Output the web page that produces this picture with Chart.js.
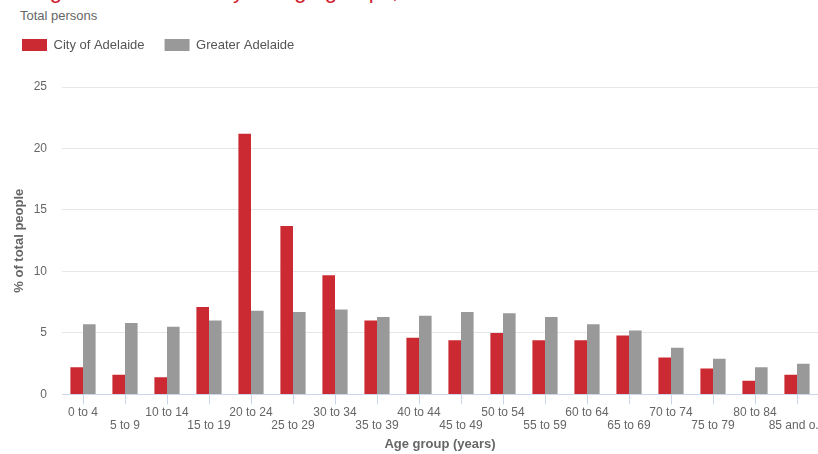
<!DOCTYPE html>
<html>
<head>
<meta charset="utf-8">
<script src="https://cdn.jsdelivr.net/npm/chart.js@4.4.1/dist/chart.umd.min.js"></script>
<style>
  body { margin: 0; background: #fff; font-family: "Liberation Sans", Arial, sans-serif; overflow: hidden; }
  #wrap { position: relative; width: 818px; height: 454px; overflow: hidden; }
  #title { position: absolute; left: 35px; top: -20px; font-size: 22px; line-height: 22px; color: #d0202e; white-space: nowrap; }
  #subtitle { position: absolute; left: 20px; top: 8px; font-size: 13px; line-height: 15px; color: #666; }
  #ageChart { position: absolute; left: 0; top: 0; }
</style>
</head>
<body>
<div id="wrap">
  <div id="title">Age structure - Five year age groups, 2016</div>
  <div id="subtitle">Total persons</div>
  <canvas id="ageChart" width="818" height="454"></canvas>
</div>
<script>
const ageGroups = ["0 to 4", "5 to 9", "10 to 14", "15 to 19", "20 to 24", "25 to 29", "30 to 34", "35 to 39", "40 to 44",
  "45 to 49", "50 to 54", "55 to 59", "60 to 64", "65 to 69", "70 to 74", "75 to 79", "80 to 84", "85 and o..."];
const cityOfAdelaide = [2.2, 1.6, 1.4, 7.1, 21.2, 13.7, 9.7, 6.0, 4.6, 4.4, 5.0, 4.4, 4.4, 4.8, 3.0, 2.1, 1.1, 1.6];
const greaterAdelaide = [5.7, 5.8, 5.5, 6.0, 6.8, 6.7, 6.9, 6.3, 6.4, 6.7, 6.6, 6.3, 5.7, 5.2, 3.8, 2.9, 2.2, 2.5];
const yTicks = [0, 5, 10, 15, 20, 25];

// stagger the x labels over two rows, like the original
const xLabels = ageGroups.map((g, i) => i % 2 === 0 ? [g, ""] : ["", g]);

// --- extra room under the legend ---
const legendSpacer = {
  id: 'legendSpacer',
  beforeLayout(chart) {
    const lg = chart.legend;
    if (lg && !lg._spaced) {
      const fit = lg.fit;
      lg.fit = function () { fit.call(this); this.height += 25.5; };
      lg._spaced = true;
    }
  }
};

const ctx = document.getElementById('ageChart').getContext('2d');
new Chart(ctx, {
  type: 'bar',
  data: {
    labels: xLabels,
    datasets: [
      { label: 'City of Adelaide', data: cityOfAdelaide, backgroundColor: '#cc2a33' },
      { label: 'Greater Adelaide', data: greaterAdelaide, backgroundColor: '#999999' }
    ]
  },
  options: {
    responsive: false,
    animation: false,
    categoryPercentage: 0.6,
    barPercentage: 1.0,
    layout: { padding: { left: 2, top: 18.5, right: 0, bottom: 0 } },
    font: { family: '"Liberation Sans", Arial, sans-serif' },
    plugins: {
      legend: {
        position: 'top',
        align: 'start',
        labels: { boxWidth: 25, boxHeight: 12, padding: 20, color: '#555', font: { size: 13 } }
      },
      tooltip: { enabled: false }
    },
    scales: {
      x: {
        grid: { display: true, drawOnChartArea: false, drawTicks: true, tickLength: 10, color: '#ccd6eb', offset: false },
        border: { color: '#ccd6eb' },
        ticks: { autoSkip: false, maxRotation: 0, padding: 2, color: '#666', font: { size: 12, lineHeight: '13px' } },
        title: { display: true, text: 'Age group (years)', color: '#666', font: { size: 13, weight: 'bold' }, padding: { top: 2, bottom: 2 } },
        afterFit(s) { s.paddingRight = 0; s.paddingLeft = 0; }
      },
      y: {
        min: 0,
        max: 25,
        afterBuildTicks(s) { s.ticks = yTicks.map(v => ({ value: v })); },
        afterFit(s) { s.width = 60; },
        ticks: { padding: 15, color: '#666', font: { size: 12 } },
        grid: { color: '#e6e6e6', drawTicks: false },
        border: { display: false },
        title: { display: true, text: '% of total people', color: '#666', font: { size: 13, weight: 'bold' }, padding: { top: 10, bottom: 6 } }
      }
    }
  },
  plugins: [legendSpacer]
});
</script>
</body>
</html>
